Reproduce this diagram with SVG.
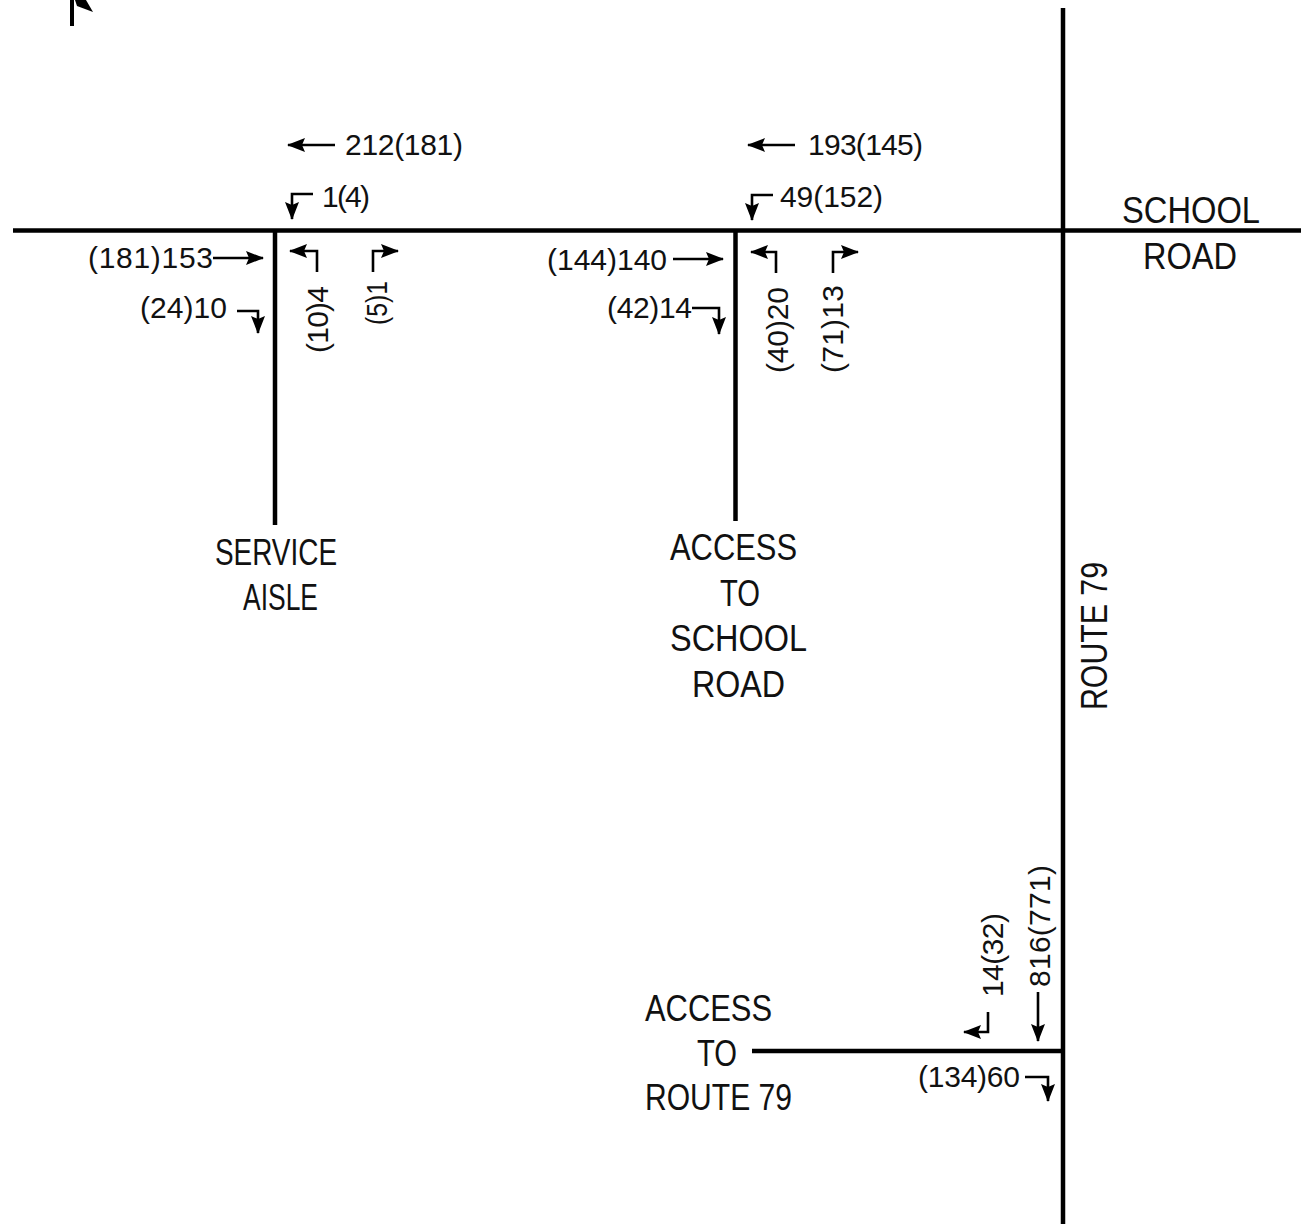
<svg xmlns="http://www.w3.org/2000/svg" width="1301" height="1224" viewBox="0 0 1301 1224">
<style>
.road{stroke:#000;stroke-width:4.5;fill:none}
.arr{stroke:#000;stroke-width:2.6;fill:none;marker-end:url(#ah)}
.num{font-family:"Liberation Sans",Arial,sans-serif;font-size:30px;fill:#111}
.lbl{font-family:"Liberation Sans",Arial,sans-serif;font-size:37px;fill:#111}
</style>
<defs>
<marker id="ah" markerUnits="userSpaceOnUse" viewBox="0 0 18 14" markerWidth="18" markerHeight="14" refX="17" refY="7" orient="auto">
<path d="M0,0 L18,7 L0,14 L3,7 z" fill="#000"/>
</marker>
</defs>
<rect width="1301" height="1224" fill="#fff"/>

<g id="north-arrow">
<rect x="70" y="0" width="4" height="26" fill="#000"/>
<polygon points="75,0 86,0 93,12 77,6" fill="#000"/>
</g>

<g id="roads">
<line id="school-road" class="road" x1="13" y1="230.5" x2="1301" y2="230.5"/>
<line id="route-79" class="road" x1="1063" y1="8" x2="1063" y2="1224"/>
<line id="service-aisle" class="road" x1="275" y1="230.5" x2="275" y2="525"/>
<line id="access-school" class="road" x1="735.5" y1="230.5" x2="735.5" y2="521"/>
<line id="access-route79" class="road" x1="752" y1="1051" x2="1063" y2="1051"/>
</g>

<g id="connectors">
<polyline class="arr" points="335,145 288,145"/>
<polyline class="arr" points="313,194 292,194 292,219"/>
<polyline class="arr" points="213,258 263,258"/>
<polyline class="arr" points="237,311 258,311 258,333"/>
<polyline class="arr" points="317,272 317,251 290,251"/>
<polyline class="arr" points="373,272 373,251 398,251"/>
<polyline class="arr" points="795,145 748,145"/>
<polyline class="arr" points="773,195 752,195 752,220"/>
<polyline class="arr" points="673,259 723,259"/>
<polyline class="arr" points="692,308 719,308 719,334"/>
<polyline class="arr" points="776,273 776,252 751,252"/>
<polyline class="arr" points="833,273 833,252 858,252"/>
<polyline class="arr" points="988,1012 988,1032 964,1032"/>
<polyline class="arr" points="1038,992 1038,1041"/>
<polyline class="arr" points="1025,1077 1048,1077 1048,1101"/>
</g>

<g id="service-aisle-volumes">
<text class="num" x="345" y="155" textLength="118">212(181)</text>
<text class="num" x="322" y="207" textLength="48">1(4)</text>
<text class="num" x="88" y="268" textLength="125">(181)153</text>
<text class="num" x="140" y="318" textLength="87">(24)10</text>
<text class="num" transform="translate(328,353) rotate(-90)" textLength="67">(10)4</text>
<text class="num" transform="translate(387,325) rotate(-90)" textLength="44" lengthAdjust="spacingAndGlyphs">(5)1</text>
</g>

<g id="access-school-volumes">
<text class="num" x="808" y="155" textLength="115">193(145)</text>
<text class="num" x="780" y="207" textLength="103">49(152)</text>
<text class="num" x="547" y="270" textLength="120">(144)140</text>
<text class="num" x="607" y="318" textLength="85">(42)14</text>
<text class="num" transform="translate(788,373) rotate(-90)" textLength="86">(40)20</text>
<text class="num" transform="translate(843,373) rotate(-90)" textLength="88">(71)13</text>
</g>

<g id="access-route79-volumes">
<text class="num" transform="translate(1003,997) rotate(-90)" textLength="84">14(32)</text>
<text class="num" transform="translate(1050,987) rotate(-90)" textLength="122">816(771)</text>
<text class="num" x="918" y="1087" textLength="102">(134)60</text>
</g>

<g id="label-service-aisle">
<text class="lbl" x="215" y="565" textLength="122" lengthAdjust="spacingAndGlyphs">SERVICE</text>
<text class="lbl" x="243" y="610" textLength="75" lengthAdjust="spacingAndGlyphs">AISLE</text>
</g>

<g id="label-access-school">
<text class="lbl" x="670" y="560" textLength="127" lengthAdjust="spacingAndGlyphs">ACCESS</text>
<text class="lbl" x="720" y="606" textLength="40" lengthAdjust="spacingAndGlyphs">TO</text>
<text class="lbl" x="670" y="651" textLength="137" lengthAdjust="spacingAndGlyphs">SCHOOL</text>
<text class="lbl" x="692" y="697" textLength="93" lengthAdjust="spacingAndGlyphs">ROAD</text>
</g>

<g id="label-school-road">
<text class="lbl" x="1122" y="223" textLength="138" lengthAdjust="spacingAndGlyphs">SCHOOL</text>
<text class="lbl" x="1143" y="269" textLength="94" lengthAdjust="spacingAndGlyphs">ROAD</text>
</g>

<g id="label-route-79">
<text class="lbl" transform="translate(1107,710) rotate(-90)" textLength="148" lengthAdjust="spacingAndGlyphs">ROUTE 79</text>
</g>

<g id="label-access-route79">
<text class="lbl" x="645" y="1021" textLength="127" lengthAdjust="spacingAndGlyphs">ACCESS</text>
<text class="lbl" x="697" y="1066" textLength="40" lengthAdjust="spacingAndGlyphs">TO</text>
<text class="lbl" x="645" y="1110" textLength="147" lengthAdjust="spacingAndGlyphs">ROUTE 79</text>
</g>
</svg>
